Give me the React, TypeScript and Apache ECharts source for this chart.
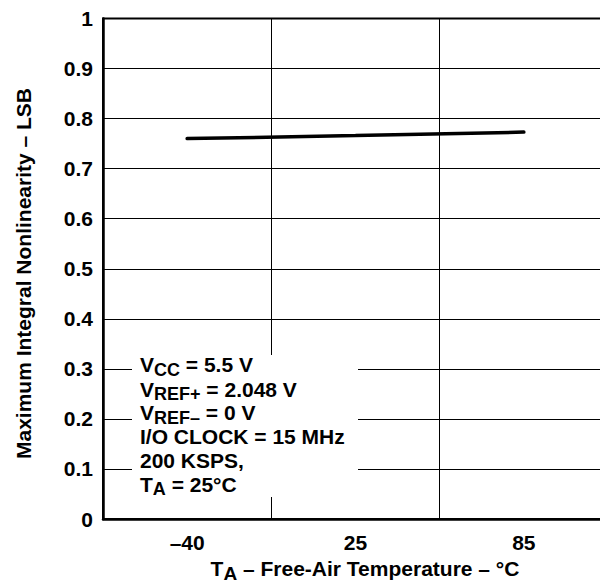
import React, { useEffect, useRef } from 'react';
import * as echarts from 'echarts';

// Data
const temperatures = ['–40', '25', '85'];
const maxIntegralNonlinearity = [0.760, 0.766, 0.773];
const yMin = 0;
const yMax = 1;
const yStep = 0.1;

const conditionLines = [
  '{n|V}{s|CC}{n| = 5.5 V}',
  '{n|V}{s|REF+}{n| = 2.048 V}',
  '{n|V}{s|REF–}{n| = 0 V}',
  '{n|I/O CLOCK = 15 MHz}',
  '{n|200 KSPS,}',
  '{n|T}{s|A}{n| = 25°C}',
];
const conditionLineY = [356.8, 381.0, 404.5, 428.8, 452.8, 476.2];

const yAxisTitle = 'Maximum Integral Nonlinearity – LSB';
const xAxisTitle = '{n|T}{s|A}{n| – Free-Air Temperature – °C}';

const FAMILY = '"Liberation Sans", Arial, Helvetica, sans-serif';

const rich = {
  n: { fontSize: 21, fontWeight: 'bold', fontFamily: FAMILY, lineHeight: 22, fill: '#000', color: '#000' },
  s: { fontSize: 18, fontWeight: 'bold', fontFamily: FAMILY, lineHeight: 22, fill: '#000', color: '#000', padding: [10, 0, 0, 0] },
};

const richTitle = {
  n: { fontSize: 21, fontWeight: 'bold', fontFamily: FAMILY, lineHeight: 22, fill: '#000', color: '#000' },
  s: { fontSize: 19, fontWeight: 'bold', fontFamily: FAMILY, lineHeight: 22, fill: '#000', color: '#000', padding: [10, 0, 0, 0] },
};

export default function App() {
  const ref = useRef<HTMLDivElement>(null);

  useEffect(() => {
    const chart = echarts.init(ref.current!, null, { renderer: 'svg' });

    const graphics: any[] = [
      {
        type: 'rect',
        z: 100,
        shape: { x: 124, y: 347, width: 226, height: 142 },
        style: { fill: '#fff', stroke: null },
      },
      ...conditionLines.map((t, i) => ({
        type: 'text',
        z: 101,
        x: 132,
        y: conditionLineY[i],
        style: {
          text: t,
          rich,
          align: 'left',
          verticalAlign: 'middle',
          textAlign: 'left',
          textVerticalAlign: 'middle',
        },
      })),
      {
        type: 'text',
        z: 101,
        x: 357,
        y: 560,
        style: {
          text: xAxisTitle,
          rich: richTitle,
          align: 'center',
          verticalAlign: 'middle',
          textAlign: 'center',
          textVerticalAlign: 'middle',
        },
      },
      {
        type: 'text',
        z: 101,
        x: 15.5,
        y: 265.5,
        rotation: Math.PI / 2,
        style: {
          text: yAxisTitle,
          fontSize: 21,
          fontWeight: 'bold',
          fontFamily: FAMILY,
          fill: '#000',
          align: 'center',
          verticalAlign: 'middle',
          textAlign: 'center',
          textVerticalAlign: 'middle',
        },
      },
    ];

    chart.setOption({
      animation: false,
      backgroundColor: '#fff',
      grid: {
        left: 95,
        top: 7,
        right: -2,
        bottom: 65,
        show: true,
        borderColor: '#000',
        borderWidth: 2,
        backgroundColor: 'transparent',
        containLabel: false,
      },
      xAxis: {
        type: 'category',
        data: temperatures,
        boundaryGap: true,
        axisLine: { show: true, lineStyle: { color: '#000', width: 2.5 } },
        axisTick: { show: false },
        axisLabel: {
          color: '#000',
          fontSize: 21,
          fontWeight: 'bold',
          fontFamily: FAMILY,
          margin: 13,
        },
        splitLine: { show: true, lineStyle: { color: '#000', width: 1 } },
      },
      yAxis: {
        type: 'value',
        min: yMin,
        max: yMax,
        interval: yStep,
        axisLine: { show: true, lineStyle: { color: '#000', width: 2.5 } },
        axisTick: { show: false },
        axisLabel: {
          color: '#000',
          fontSize: 21,
          fontWeight: 'bold',
          fontFamily: FAMILY,
          margin: 10,
        },
        splitLine: { show: true, lineStyle: { color: '#000', width: 1 } },
      },
      series: [
        {
          type: 'line',
          data: maxIntegralNonlinearity,
          smooth: true,
          symbol: 'none',
          lineStyle: { color: '#000', width: 3.5, cap: 'round' },
          z: 5,
        },
      ],
      graphic: graphics,
    });

    return () => chart.dispose();
  }, []);

  return <div ref={ref} style={{ width: 600, height: 576 }} />;
}
